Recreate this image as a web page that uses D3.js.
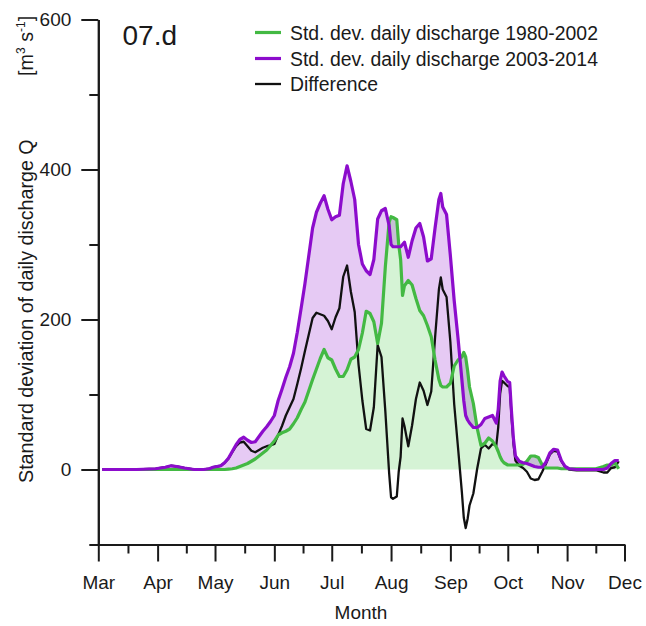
<!DOCTYPE html>
<html>
<head>
<meta charset="utf-8">
<script src="https://cdn.jsdelivr.net/npm/d3@7"></script>
<style>
  html, body { margin: 0; padding: 0; background: #ffffff; }
  svg { display: block; }
  text { font-family: "Liberation Sans", Arial, Helvetica, sans-serif; fill: #1a1a1a; }
</style>
</head>
<body>
<svg id="chart" width="646" height="626"></svg>
<script>
// ---- data (day offset from 1 March) ----
const days = [2, 10, 20, 30, 35, 38, 41, 45, 50, 55, 58, 60, 62, 64, 66, 68, 70, 72, 74, 76, 78, 80,
  82, 84, 86, 88, 90, 92, 94, 96, 98, 100, 102, 104, 106, 108, 110, 112, 114, 116, 118, 120,
  122, 124, 126, 128, 130, 132, 134, 136, 138, 140, 142, 144, 146, 148, 150, 152, 153, 154, 156,
  157, 158, 159, 160, 162, 164, 166, 168, 170, 172, 174, 176, 178, 179, 180, 182, 184, 186, 188,
  190, 191, 192, 193, 194, 196, 198, 200, 202, 204, 206, 208, 209, 210, 211, 212, 214, 215, 216,
  217, 218, 220, 222, 224, 226, 228, 230, 232, 234, 236, 238, 240, 242, 244, 246, 250, 255, 260,
  264, 266, 268, 270, 272];

// Std. dev. daily discharge 2003-2014 (purple)
const sd2003 = [0, 0, 0, 1, 3, 5, 4, 2, 0, 0, 1, 3, 4, 5, 9, 15, 24, 33, 40, 43, 39, 36,
  37, 44, 51, 57, 64, 72, 92, 107, 123, 137, 155, 183, 215, 248, 285, 322, 343, 355, 365, 347,
  333, 337, 339, 381, 405, 384, 360, 300, 274, 265, 260, 280, 334, 345, 348, 325, 300, 297, 297,
  297, 297, 300, 303, 283, 305, 322, 328, 310, 278, 281, 322, 360, 368, 350, 340, 285, 225, 175,
  120, 92, 72, 66, 62, 56, 56, 60, 68, 70, 72, 62, 80, 118, 130, 125, 117, 116, 75,
  40, 18, 11, 9, 8, 6, 4, 3, 3, 10, 22, 27, 26, 12, 4, 1, 0, 0, 0,
  0, 2, 8, 12, 12];

// Std. dev. daily discharge 1980-2002 (green)
const sd1980 = [0, 0, 0, 0, 0, 0, 0, 0, 0, 0, 0, 0, 0, 0, 0, 0.5, 1, 2, 4, 6, 8, 11,
  14, 18, 22, 26, 32, 38, 46, 49, 51, 54, 61, 69, 80, 90, 105, 120, 134, 148, 160, 149,
  146, 134, 124, 124, 133, 147, 150, 160, 182, 211, 208, 197, 168, 195, 270, 330, 337, 336, 333,
  300, 280, 232, 245, 252, 246, 228, 212, 205, 192, 177, 146, 120, 112, 110, 110, 115, 138, 146,
  150, 156, 150, 132, 110, 88, 55, 32, 35, 42, 38, 30, 24, 17, 12, 9, 6, 6, 6,
  6, 6, 6, 7, 11, 18, 18, 16, 6, 2, 2, 2, 2, 1, 1, 1, 1, 1, 1,
  4, 6, 6, 9, 1];

const monthLabels = ["Mar", "Apr", "May", "Jun", "Jul", "Aug", "Sep", "Oct", "Nov", "Dec"];
const yMajorTicks = [0, 200, 400, 600];
const yMinorTicks = [-100, 100, 300, 500];
const legendLabels = ["Std. dev. daily discharge 1980-2002", "Std. dev. daily discharge 2003-2014", "Difference"];

// ---- build records ----
const start = new Date(2001, 2, 1);
const rows = days.map((d, i) => ({
  date: d3.timeDay.offset(start, d),
  g: sd1980[i],
  p: sd2003[i],
  diff: sd2003[i] - sd1980[i]
}));

const colGreen = "#43b943";
const colPurple = "#8c0ccc";
const colFillGreen = "#d5f3d5";
const colBlack = "#111111";
const axisCol = "#1a1a1a";

const svg = d3.select("#chart");

const x = d3.scaleTime()
  .domain([new Date(2001, 2, 1), new Date(2001, 11, 1)])
  .range([98.3, 624.5]);
const y = d3.scaleLinear().domain([-100, 600]).range([544.5, 19.5]);

// ---- areas ----
svg.append("path").datum(rows)
  .attr("fill", colFillGreen)
  .attr("d", d3.area().x(d => x(d.date)).y0(y(0)).y1(d => y(d.g)));

svg.append("path").datum(rows)
  .attr("fill", colPurple).attr("fill-opacity", 0.22)
  .attr("d", d3.area().x(d => x(d.date)).y0(d => y(d.g)).y1(d => y(d.p)));

// ---- lines ----
const line = key => d3.line().x(d => x(d.date)).y(d => y(d[key]));
svg.append("path").datum(rows).attr("fill", "none").attr("stroke", colBlack)
  .attr("stroke-width", 2.3).attr("stroke-linejoin", "round").attr("d", line("diff"));
svg.append("path").datum(rows).attr("fill", "none").attr("stroke", colGreen)
  .attr("stroke-width", 3.2).attr("stroke-linejoin", "round").attr("d", line("g"));
svg.append("path").datum(rows).attr("fill", "none").attr("stroke", colPurple)
  .attr("stroke-width", 3.2).attr("stroke-linejoin", "round").attr("d", line("p"));

// ---- axes ----
function styleAxis(g) {
  g.selectAll("path, line").attr("stroke", axisCol).attr("stroke-width", 2);
  g.selectAll("text").attr("font-size", 19).attr("fill", axisCol)
    .attr("font-family", "'Liberation Sans', Arial, sans-serif");
}

const yAxisMajor = svg.append("g").attr("transform", "translate(98.3,0)")
  .call(d3.axisLeft(y).tickValues(yMajorTicks).tickSize(17).tickSizeOuter(0).tickPadding(10));
styleAxis(yAxisMajor);
const yAxisMinor = svg.append("g").attr("transform", "translate(98.3,0)")
  .call(d3.axisLeft(y).tickValues(yMinorTicks).tickSize(9).tickSizeOuter(0).tickFormat(""));
styleAxis(yAxisMinor);

const monthDates = monthLabels.map((m, i) => new Date(2001, 2 + i, 1));
const midDates = monthDates.slice(0, -1).map((d, i) => new Date((+d + +monthDates[i + 1]) / 2));

const xAxisMajor = svg.append("g").attr("transform", "translate(0,544.5)")
  .call(d3.axisBottom(x).tickValues(monthDates).tickSize(17).tickSizeOuter(0).tickPadding(14)
    .tickFormat((d, i) => monthLabels[i]));
styleAxis(xAxisMajor);
const xAxisMinor = svg.append("g").attr("transform", "translate(0,544.5)")
  .call(d3.axisBottom(x).tickValues(midDates).tickSize(9).tickSizeOuter(0).tickFormat(""));
styleAxis(xAxisMinor);

// ---- axis titles ----
svg.append("text").attr("x", 361).attr("y", 619).attr("text-anchor", "middle")
  .attr("font-size", 19).text("Month");

const yt = svg.append("text").attr("transform", "translate(32.5,483) rotate(-90)")
  .attr("text-anchor", "start").attr("font-size", 19.7);
yt.append("tspan").text("Standard deviation of daily discharge Q ");
yt.append("tspan").attr("dx", 58).text("[m");
yt.append("tspan").attr("font-size", 12).attr("dy", -8).text("3");
yt.append("tspan").attr("dy", 8).text(" s");
yt.append("tspan").attr("font-size", 12).attr("dy", -8).text("-1");
yt.append("tspan").attr("dy", 8).text("]");

// ---- panel label ----
svg.append("text").attr("x", 122.5).attr("y", 45).attr("font-size", 28).text("07.d");

// ---- legend ----
const legColors = [colGreen, colPurple, colBlack];
const legWidths = [3.2, 3.2, 2.3];
const legY = [32.5, 58.5, 84];
legendLabels.forEach((lab, i) => {
  svg.append("line").attr("x1", 255).attr("x2", 281).attr("y1", legY[i]).attr("y2", legY[i])
    .attr("stroke", legColors[i]).attr("stroke-width", legWidths[i]);
  svg.append("text").attr("x", 290).attr("y", legY[i] + 7).attr("font-size", 19.4).text(lab);
});
</script>
</body>
</html>
